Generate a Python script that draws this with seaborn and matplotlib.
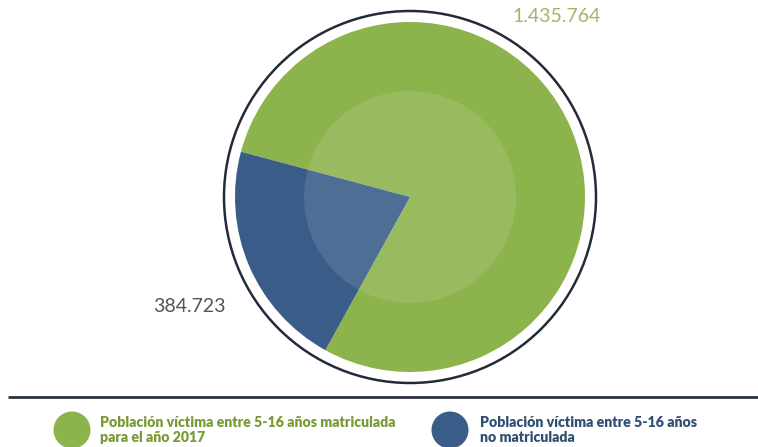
import matplotlib
matplotlib.use("Agg")
import matplotlib.pyplot as plt
from matplotlib.patches import Circle, Ellipse
import seaborn as sns

# Data
categories = ["Población víctima entre 5-16 años matriculada\npara el año 2017",
              "Población víctima entre 5-16 años\nno matriculada"]
values = [1435764, 384723]
value_labels = ["1.435.764", "384.723"]

sns.set_theme(style="white")
plt.rcParams["font.family"] = ["Lato", "DejaVu Sans"]

green = "#8db34c"
blue = "#395d88"
colors = [green, blue]

W, H = 758, 447
fig = plt.figure(figsize=(W / 100, H / 100), dpi=100)
ax = fig.add_axes([0, 0, 1, 1])

cx, cy = 410, H - 197
r_pie = 175
total = sum(values)
start = 165 + 360 * values[1] / total  # blue wedge sits on the left side

ax.pie(values, colors=colors, startangle=start, radius=r_pie, center=(cx, cy),
       frame=True, wedgeprops=dict(linewidth=0))
ax.set_xlim(0, W)
ax.set_ylim(0, H)
ax.set_aspect("equal")
ax.axis("off")

# soft highlight disc in the middle of the pie
ax.add_patch(Circle((cx, cy), 106, facecolor="white", alpha=0.11, linewidth=0, zorder=3))
# outer ring
ax.add_patch(Circle((cx, cy), 186, fill=False, edgecolor="#252a3a", linewidth=1.8, zorder=4))

# value labels
ax.text(557, H - 17, value_labels[0], color="#a3b466", fontsize=14, fontweight="normal",
        ha="center", va="center")
ax.text(189, H - 306, value_labels[1], color="#4f555c", fontsize=14, fontweight="normal",
        ha="center", va="center")

# separator line
ax.plot([8, W], [H - 397, H - 397], color="#2c3140", linewidth=2, solid_capstyle="butt")

# legend
legend_x = [72, 450]
text_x = [100, 480]
for lx, tx, col, lab in zip(legend_x, text_x, colors, categories):
    ax.add_patch(Ellipse((lx, H - 430), 37, 37, facecolor=col, linewidth=0))
    ax.text(tx, H - 430, lab, color=("#7a9a35" if col == green else "#2f4f75"),
            fontsize=10.2, fontweight="heavy", ha="left", va="center", linespacing=1.1)

fig.savefig("out.png", dpi=100)
